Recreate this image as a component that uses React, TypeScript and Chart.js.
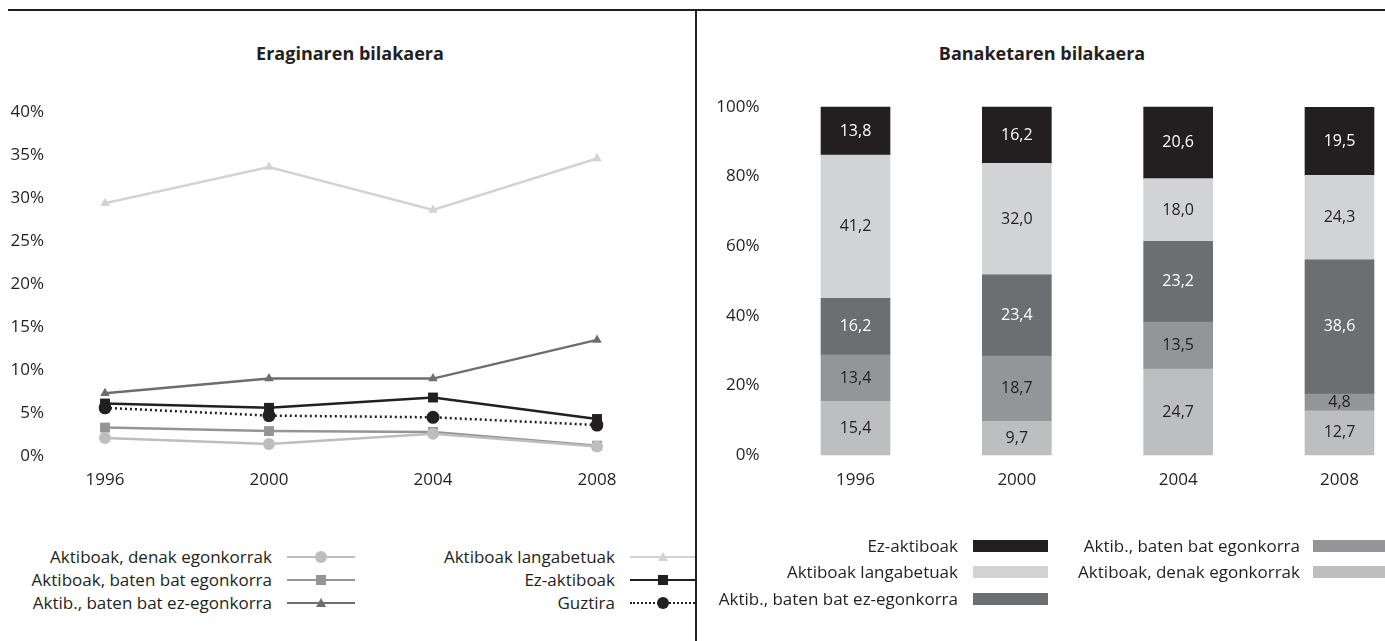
import React, { useEffect, useRef } from "react";
import { Chart, registerables } from "chart.js";

Chart.register(...registerables);

const FONT = "'Open Sans', 'DejaVu Sans', sans-serif";
const INK = "#231f20";

// ---- data ----
const years = ["1996", "2000", "2004", "2008"];

// Left: Eraginaren bilakaera (%)
const denakEgonkorrak = [2.1, 1.4, 2.6, 1.1];
const batenBatEgonkorra = [3.3, 2.9, 2.8, 1.2];
const batenBatEzEgonkorra = [7.3, 9.0, 9.0, 13.5];
const langabetuak = [29.4, 33.6, 28.6, 34.6];
const ezAktiboak = [6.1, 5.6, 6.8, 4.3];
const guztira = [5.6, 4.7, 4.5, 3.6];
const leftTicks = [0, 5, 10, 15, 20, 25, 30, 35, 40];

// Right: Banaketaren bilakaera (%)
const distDenakEgonkorrak = [15.4, 9.7, 24.7, 12.7];
const distBatenBatEgonkorra = [13.4, 18.7, 13.5, 4.8];
const distBatenBatEzEgonkorra = [16.2, 23.4, 23.2, 38.6];
const distLangabetuak = [41.2, 32.0, 18.0, 24.3];
const distEzAktiboak = [13.8, 16.2, 20.6, 19.5];
const rightTicks = [0, 20, 40, 60, 80, 100];

const C_BLACK = "#231f20";
const C_LIGHT = "#d1d3d4";
const C_DARK = "#6d6e71";
const C_MID = "#939598";
const C_PALE = "#bcbec0";

const barLabelPlugin = {
  id: "barLabels",
  afterDatasetsDraw(chart: any) {
    const ctx = chart.ctx;
    ctx.save();
    ctx.font = `16px ${FONT}`;
    ctx.textAlign = "center";
    ctx.textBaseline = "middle";
    chart.data.datasets.forEach((ds: any, i: number) => {
      const meta = chart.getDatasetMeta(i);
      meta.data.forEach((el: any, j: number) => {
        const v = ds.data[j];
        const y = (el.y + el.base) / 2;
        ctx.fillStyle = ds.labelColor;
        ctx.fillText(v.toFixed(1).replace(".", ","), el.x, y);
      });
    });
    ctx.restore();
  },
};

function LineChart() {
  const ref = useRef<HTMLCanvasElement>(null);
  useEffect(() => {
    const mk = (label: string, data: number[], color: string, style: string, r: number, dash?: number[]) => ({
      label,
      data,
      borderColor: color,
      backgroundColor: color,
      borderWidth: 2.5,
      borderDash: dash || [],
      pointStyle: style,
      pointRadius: r,
      pointBorderWidth: 0,
      pointBackgroundColor: color,
      tension: 0,
    });
    const chart = new Chart(ref.current!, {
      type: "line",
      data: {
        labels: years,
        datasets: [
          mk("Aktiboak, denak egonkorrak", denakEgonkorrak, C_PALE, "circle", 6),
          mk("Aktiboak, baten bat egonkorra", batenBatEgonkorra, C_MID, "rect", 7),
          mk("Aktiboak langabetuak", langabetuak, C_LIGHT, "triangle", 5.5),
          mk("Aktib., baten bat ez-egonkorra", batenBatEzEgonkorra, C_DARK, "triangle", 5.5),
          mk("Guztira", guztira, C_BLACK, "circle", 6.5, [2, 3]),
          mk("Ez-aktiboak", ezAktiboak, C_BLACK, "rect", 7),
        ],
      },
      options: {
        animation: false,
        responsive: false,
        maintainAspectRatio: false,
        layout: { padding: { top: 112, right: 98, bottom: 0, left: 0 } },
        plugins: { legend: { display: false }, title: { display: false }, tooltip: { enabled: false } },
        scales: {
          x: {
            type: "category",
            offset: false,
            grid: { display: false, drawTicks: false },
            border: { display: false },
            ticks: { font: { family: FONT, size: 17 }, color: INK, padding: 14 },
            afterFit: (s: any) => { s.height = 76; },
          },
          y: {
            min: 0,
            max: 40,
            grid: { display: false, drawTicks: false },
            border: { display: false },
            afterBuildTicks: (s: any) => { s.ticks = leftTicks.map((v) => ({ value: v })); },
            ticks: {
              font: { family: FONT, size: 17 },
              color: INK,
              padding: 61,
              callback: (v: any) => `${v}%`,
            },
            afterFit: (s: any) => { s.width = 105; },
          },
        },
      },
    });
    return () => chart.destroy();
  }, []);
  return <canvas ref={ref} width={695} height={532} style={{ position: "absolute", left: 0, top: 0, width: 695, height: 532 }} />;
}

function BarChart() {
  const ref = useRef<HTMLCanvasElement>(null);
  useEffect(() => {
    const mk = (label: string, data: number[], color: string, labelColor: string) => ({
      label,
      data,
      backgroundColor: color,
      borderWidth: 0,
      barThickness: 69,
      clip: false,
      labelColor,
    });
    const chart = new Chart(ref.current!, {
      type: "bar",
      data: {
        labels: years,
        datasets: [
          mk("Aktiboak, denak egonkorrak", distDenakEgonkorrak, C_PALE, INK),
          mk("Aktib., baten bat egonkorra", distBatenBatEgonkorra, C_MID, INK),
          mk("Aktib., baten bat ez-egonkorra", distBatenBatEzEgonkorra, C_DARK, "#ffffff"),
          mk("Aktiboak langabetuak", distLangabetuak, C_LIGHT, INK),
          mk("Ez-aktiboak", distEzAktiboak, C_BLACK, "#ffffff"),
        ] as any,
      },
      options: {
        animation: false,
        responsive: false,
        maintainAspectRatio: false,
        layout: { padding: { top: 107, right: 45.5, bottom: 0, left: 0 } },
        plugins: { legend: { display: false }, title: { display: false }, tooltip: { enabled: false } },
        scales: {
          x: {
            type: "category",
            stacked: true,
            offset: false,
            grid: { display: false, drawTicks: false },
            border: { display: false },
            ticks: { font: { family: FONT, size: 17 }, color: INK, padding: 15 },
            afterFit: (s: any) => { s.height = 114; },
          },
          y: {
            stacked: true,
            min: 0,
            max: 100,
            grid: { display: false, drawTicks: false },
            border: { display: false },
            afterBuildTicks: (s: any) => { s.ticks = rightTicks.map((v) => ({ value: v })); },
            ticks: {
              font: { family: FONT, size: 17 },
              color: INK,
              padding: 96,
              callback: (v: any) => `${v}%`,
            },
            afterFit: (s: any) => { s.width = 158.5; },
          },
        },
      },
      plugins: [barLabelPlugin],
    });
    return () => chart.destroy();
  }, []);
  return <canvas ref={ref} width={688} height={569} style={{ position: "absolute", left: 697, top: 0, width: 688, height: 569 }} />;
}

const textStyle: React.CSSProperties = {
  position: "absolute",
  fontFamily: FONT,
  fontSize: 17,
  lineHeight: "22px",
  color: INK,
  whiteSpace: "nowrap",
  textAlign: "right",
};

function Label({ text, right, cy }: { text: string; right: number; cy: number }) {
  return <div style={{ ...textStyle, right: 1385 - right, top: cy - 11 }}>{text}</div>;
}

function Marker({ shape, color, cx, cy }: { shape: string; color: string; cx: number; cy: number }) {
  if (shape === "circle") {
    return <div style={{ position: "absolute", left: cx - 6, top: cy - 6, width: 12, height: 12, borderRadius: 6, background: color }} />;
  }
  if (shape === "rect") {
    return <div style={{ position: "absolute", left: cx - 5, top: cy - 5, width: 10, height: 10, background: color }} />;
  }
  return (
    <div
      style={{
        position: "absolute",
        left: cx - 5,
        top: cy - 5,
        width: 0,
        height: 0,
        borderLeft: "5px solid transparent",
        borderRight: "5px solid transparent",
        borderBottom: `9px solid ${color}`,
      }}
    />
  );
}

function LineSample({ x1, x2, cy, color, shape, dotted }: any) {
  return (
    <>
      {dotted ? (
        <div style={{ position: "absolute", left: x1, top: cy - 1, width: x2 - x1, height: 0, borderTop: `2px dotted ${color}` }} />
      ) : (
        <div style={{ position: "absolute", left: x1, top: cy - 1.25, width: x2 - x1, height: 2.5, background: color }} />
      )}
      <Marker shape={shape} color={color} cx={(x1 + x2) / 2} cy={cy} />
    </>
  );
}

const leftRows = [557, 580, 603];
const rightRows = [546, 572, 599];

const titleStyle: React.CSSProperties = {
  position: "absolute",
  top: 42,
  textAlign: "center",
  fontFamily: FONT,
  fontWeight: 700,
  fontSize: 18,
  lineHeight: "22px",
  color: INK,
};

export default function App() {
  return (
    <div style={{ position: "absolute", left: 0, top: 0, width: 1385, height: 641, background: "#fff", overflow: "hidden" }}>
      <div style={{ ...titleStyle, left: 0, width: 700 }}>Eraginaren bilakaera</div>
      <div style={{ ...titleStyle, left: 697, width: 690 }}>Banaketaren bilakaera</div>

      <LineChart />
      <BarChart />

      {/* left legend */}
      <Label text="Aktiboak, denak egonkorrak" right={272} cy={leftRows[0]} />
      <LineSample x1={287} x2={355} cy={leftRows[0]} color={C_PALE} shape="circle" />
      <Label text="Aktiboak, baten bat egonkorra" right={272} cy={leftRows[1]} />
      <LineSample x1={287} x2={355} cy={leftRows[1]} color={C_MID} shape="rect" />
      <Label text="Aktib., baten bat ez-egonkorra" right={272} cy={leftRows[2]} />
      <LineSample x1={287} x2={355} cy={leftRows[2]} color={C_DARK} shape="triangle" />

      <Label text="Aktiboak langabetuak" right={615} cy={leftRows[0]} />
      <LineSample x1={630} x2={695} cy={leftRows[0]} color={C_LIGHT} shape="triangle" />
      <Label text="Ez-aktiboak" right={615} cy={leftRows[1]} />
      <LineSample x1={630} x2={695} cy={leftRows[1]} color={C_BLACK} shape="rect" />
      <Label text="Guztira" right={615} cy={leftRows[2]} />
      <LineSample x1={630} x2={695} cy={leftRows[2]} color={C_BLACK} shape="circle" dotted />

      {/* right legend */}
      <Label text="Ez-aktiboak" right={958} cy={rightRows[0]} />
      <div style={{ position: "absolute", left: 973, top: rightRows[0] - 6, width: 75, height: 12, background: C_BLACK }} />
      <Label text="Aktiboak langabetuak" right={958} cy={rightRows[1]} />
      <div style={{ position: "absolute", left: 973, top: rightRows[1] - 6, width: 75, height: 12, background: C_LIGHT }} />
      <Label text="Aktib., baten bat ez-egonkorra" right={958} cy={rightRows[2]} />
      <div style={{ position: "absolute", left: 973, top: rightRows[2] - 6, width: 75, height: 12, background: C_DARK }} />
      <Label text="Aktib., baten bat egonkorra" right={1300} cy={rightRows[0]} />
      <div style={{ position: "absolute", left: 1313, top: rightRows[0] - 6, width: 72, height: 12, background: C_MID }} />
      <Label text="Aktiboak, denak egonkorrak" right={1300} cy={rightRows[1]} />
      <div style={{ position: "absolute", left: 1313, top: rightRows[1] - 6, width: 72, height: 12, background: C_PALE }} />

      {/* frame lines */}
      <div style={{ position: "absolute", left: 8, top: 9, width: 1377, height: 2, background: INK }} />
      <div style={{ position: "absolute", left: 695, top: 9, width: 2, height: 632, background: INK }} />
    </div>
  );
}
